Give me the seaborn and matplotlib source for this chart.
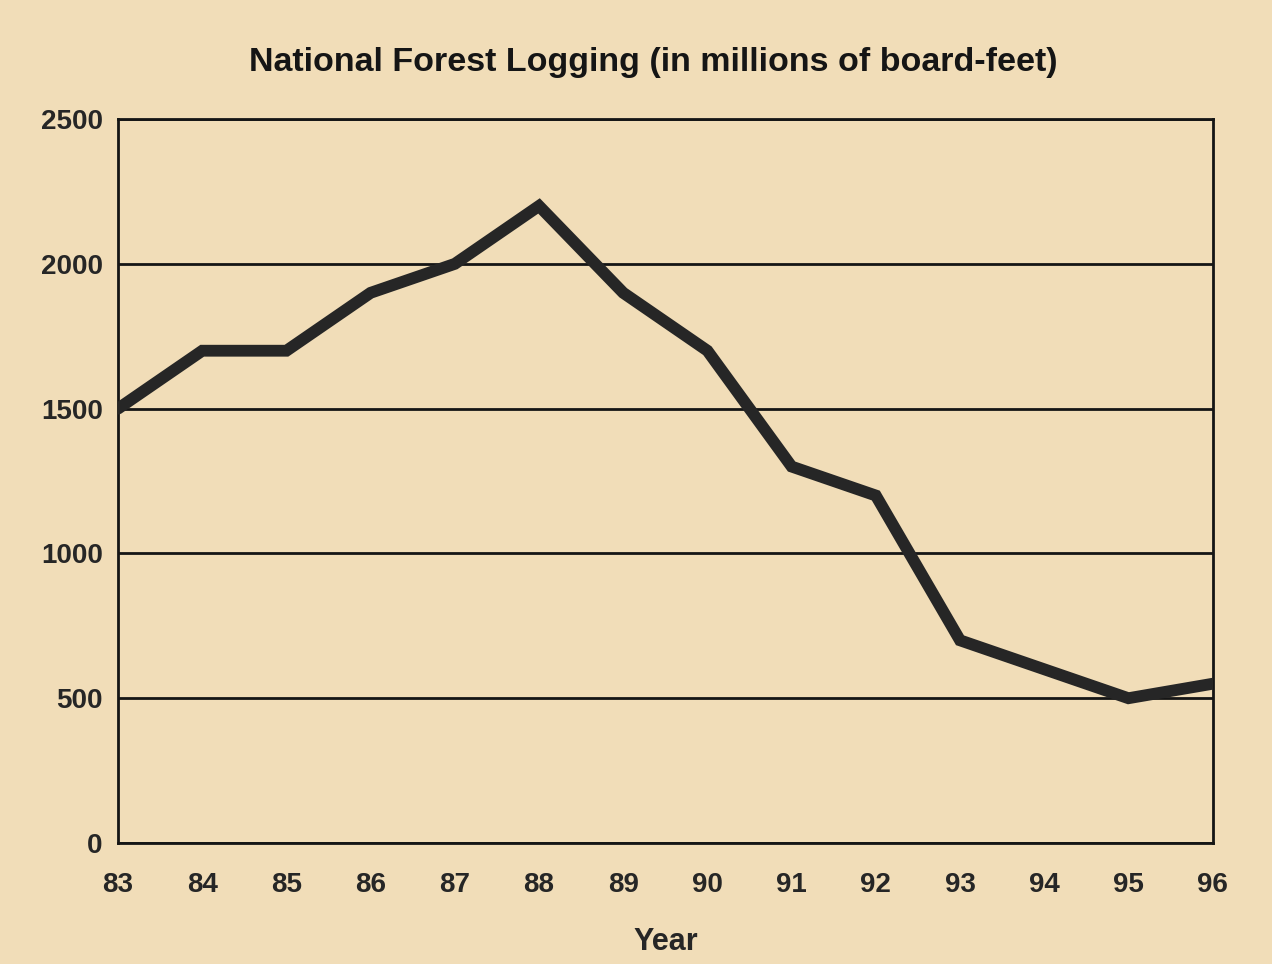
import pandas as pd
import seaborn as sns
import matplotlib.pyplot as plt

years = ["83", "84", "85", "86", "87", "88", "89", "90", "91", "92", "93", "94", "95", "96"]
logging = [1500, 1700, 1700, 1900, 2000, 2200, 1900, 1700, 1300, 1200, 700, 600, 500, 550]
y_ticks = [0, 500, 1000, 1500, 2000, 2500]

df = pd.DataFrame({"year": years, "logging": logging})
df["pos"] = range(len(df))

sns.set_style("white")
plt.rcParams["font.family"] = ["Liberation Sans", "DejaVu Sans"]

bg = "#f1ddb8"
fig = plt.figure(figsize=(12.72, 9.64), dpi=100, facecolor=bg)
ax = fig.add_axes([0.0928, 0.1255, 0.8605, 0.751])
ax.set_facecolor(bg)

for v in y_ticks:
    ax.axhline(v, color="#151515", lw=2, zorder=1)

sns.lineplot(data=df, x="pos", y="logging", ax=ax, color="#262626",
             lw=8.5, solid_joinstyle="miter", zorder=3)

ax.set_xlim(0, len(years) - 1)
ax.set_ylim(0, 2500)
ax.set_xticks(df["pos"])
ax.set_xticklabels(years)
ax.set_yticks(y_ticks)
ax.tick_params(axis="both", direction="out", length=7, width=1.8, color="#151515",
               labelsize=20, pad=14)
ax.tick_params(axis="y", length=5, pad=6)
for lab in ax.get_xticklabels() + ax.get_yticklabels():
    lab.set_fontweight("bold")
for s in ax.spines.values():
    s.set_color("#151515")
    s.set_linewidth(2)

ax.set_xlabel("Year", fontsize=22, fontweight="bold", labelpad=21)
ax.set_ylabel("")
fig.text(0.514, 0.935, "National Forest Logging (in millions of board-feet)",
         ha="center", va="center", fontsize=24.5, fontweight="bold", color="#151515")

fig.savefig("out.png", dpi=100, facecolor=bg)
